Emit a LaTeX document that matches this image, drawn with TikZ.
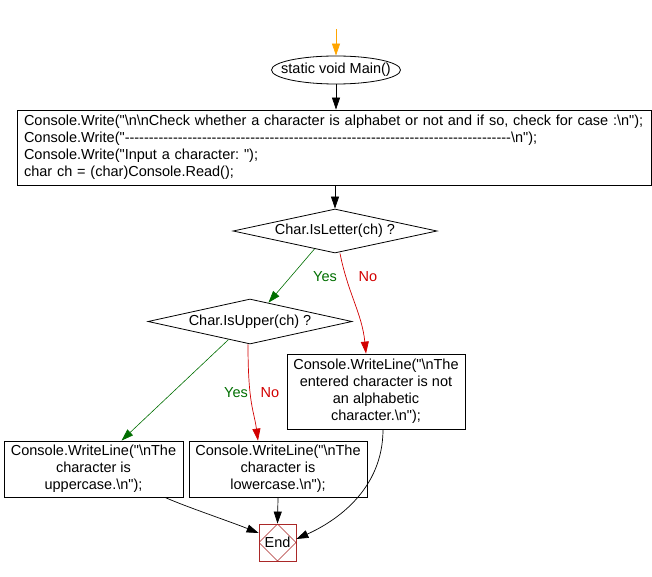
\documentclass[tikz,border=0pt]{standalone}
\usepackage{fontspec}
\setmainfont{Liberation Sans}[Ligatures=TeXOff]
\usetikzlibrary{shapes.geometric,arrows.meta,calc}
\definecolor{yesgreen}{RGB}{0,110,0}
\definecolor{nored}{RGB}{210,0,0}
\definecolor{endbrown}{RGB}{170,40,40}
\definecolor{startorange}{RGB}{255,165,0}
\frenchspacing
\begin{document}
\begin{tikzpicture}[x=1pt,y=1pt,
  every node/.style={font=\fontsize{14.5}{17}\selectfont},
  proc/.style={draw,rectangle,line width=0.8pt,inner sep=0pt,align=center},
  decide/.style={draw,diamond,shape aspect=4.6,line width=0.8pt,inner sep=0pt},
  arr/.style={line width=0.7pt,-{Triangle[length=12pt,width=8pt]}},
  yesarr/.style={arr,yesgreen,line width=0.6pt},
  noarr/.style={arr,nored,line width=0.7pt},
  yeslab/.style={text=yesgreen},
  nolab/.style={text=nored}]
\useasboundingbox (0,0) rectangle (652,-577);
\coordinate (start) at (336,-29);
\node[draw,ellipse,line width=0.8pt,minimum width=129pt,minimum height=28pt,inner sep=0pt] (main) at (336,-70) {\makebox[0pt]{static void Main()}};
\node[proc,minimum width=634pt,minimum height=75pt,text width=620pt,align=left] (init) at (334,-147.5)
 {Console.Write("\textbackslash n\textbackslash nCheck whether a character is alphabet or not and if so, check for case :\textbackslash n");\\
  Console.Write("\foreach \i in {1,...,80}{-\kern0pt}\textbackslash n");\\
  Console.Write("Input a character: ");\\
  char ch = (char)Console.Read();};
\node[decide,minimum width=204pt,minimum height=44pt] (d1) at (335,-231) {\makebox[0pt]{Char.IsLetter(ch) ?}};
\node[decide,minimum width=204pt,minimum height=45pt] (d2) at (250,-321.5) {\makebox[0pt]{Char.IsUpper(ch) ?}};
\node[proc,minimum width=178pt,minimum height=75pt] (na) at (376,-391.5)
 {Console.WriteLine("\textbackslash nThe\\ entered character is not\\ an alphabetic\\ character.\textbackslash n");};
\node[proc,minimum width=179pt,minimum height=56pt] (up) at (93.5,-469)
 {Console.WriteLine("\textbackslash nThe\\ character is\\ uppercase.\textbackslash n");};
\node[proc,minimum width=178pt,minimum height=56pt] (low) at (278,-469)
 {Console.WriteLine("\textbackslash nThe\\ character is\\ lowercase.\textbackslash n");};
\node[draw=endbrown,line width=0.8pt,rectangle,minimum width=37pt,minimum height=37pt,inner sep=0pt,
  path picture={\draw[endbrown,line width=0.6pt] (path picture bounding box.north) -- (path picture bounding box.east) -- (path picture bounding box.south) -- (path picture bounding box.west) -- cycle;}]
  (end) at (277.5,-542.5) {End};
% connectors
\draw[arr,startorange] (start) -- (main.north);
\draw[arr] (main.south) -- (main.south |- init.north);
\draw[arr] (d1.north |- init.south) -- (d1.north);
\draw[yesarr] ($(d1.south)!0.2!(d1.west)$) -- ($(d2.north)!0.18!(d2.east)$);
\draw[noarr] ($(d1.south)+(5,0)$) .. controls +(8,-40) and +(-4,40) .. ($(na.north)+(-10,0)$);
\draw[yesarr] ($(d2.south)!0.21!(d2.west)$) -- ($(up.north)+(28,0)$);
\draw[noarr] ($(d2.south)+(-2,0)$) .. controls +(0,-60) and +(-4,30) .. ($(low.north)+(-20,0)$);
\draw[arr] ($(up.south)+(71.5,0)$) .. controls +(20,-9) and +(-30,12) .. ($(end.west)+(0,9.5)$);
\draw[arr] (low.south) -- (end.north);
\draw[arr] ($(na.south)+(7,0)$) .. controls +(0,-60) and +(40,18) .. ($(end.east)+(0,3.5)$);
% labels
\node[yeslab] (y1) at (325,-277) {Yes};
\node[nolab] (n1) at (368,-277) {No};
\node[yeslab] (y2) at (236,-393) {Yes};
\node[nolab] (n2) at (270,-393) {No};
\end{tikzpicture}
\end{document}
